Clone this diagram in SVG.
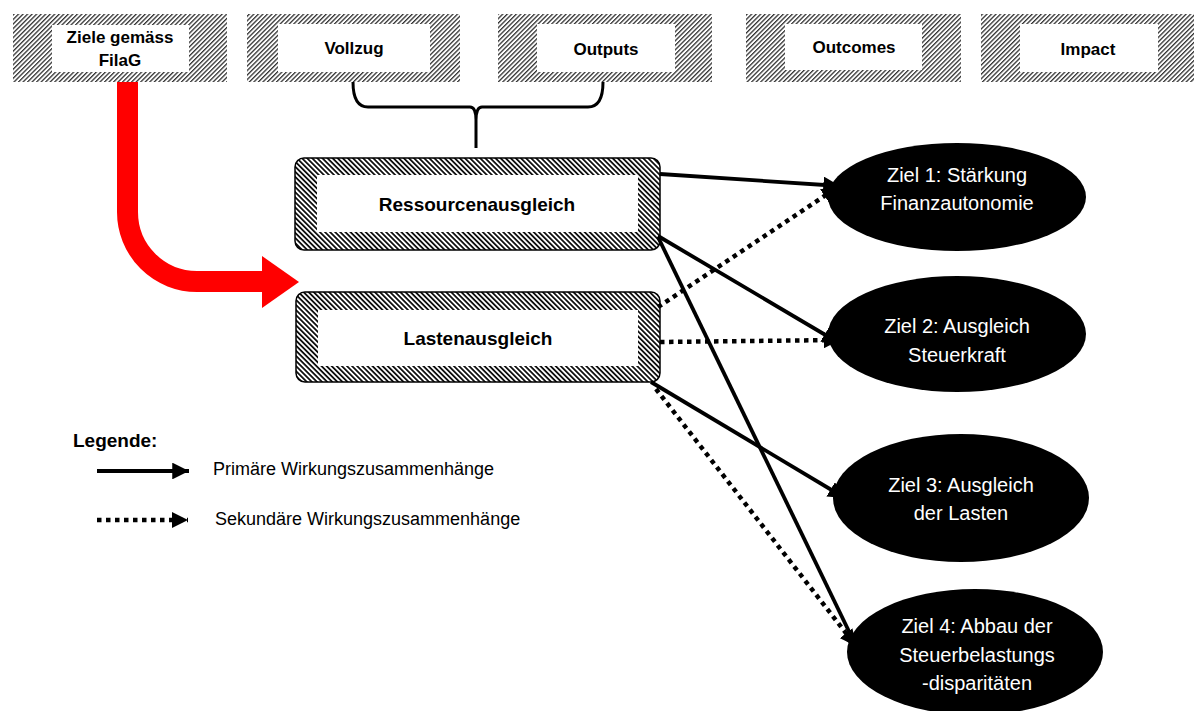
<svg xmlns="http://www.w3.org/2000/svg" width="1194" height="711" viewBox="0 0 1194 711">
<defs>
<pattern id="hatchTop" width="3.2" height="3.2" patternUnits="userSpaceOnUse" patternTransform="rotate(45)">
<rect width="3.2" height="3.2" fill="#fff"/><rect width="1.3" height="3.2" fill="#333"/>
</pattern>
<pattern id="hatchNode" width="3.6" height="3.6" patternUnits="userSpaceOnUse" patternTransform="rotate(-45)">
<rect width="3.6" height="3.6" fill="#fff"/><rect width="1.8" height="3.6" fill="#111"/>
</pattern>
<marker id="ah" viewBox="0 0 10 10" refX="10" refY="5" markerWidth="4.4" markerHeight="4.4" markerUnits="strokeWidth" orient="auto">
<path d="M0,0 L10,5 L0,10 Z" fill="#000"/>
</marker>
<marker id="ahd" viewBox="0 0 10 10" refX="10" refY="5" markerWidth="3.6" markerHeight="3.6" markerUnits="strokeWidth" orient="auto">
<path d="M0,0 L10,5 L0,10 Z" fill="#000"/>
</marker>
</defs>
<style>
.top{fill:url(#hatchTop)}
.in{fill:#fff}
.tl{font-family:"Liberation Sans",Arial,sans-serif;font-weight:bold;font-size:17px;fill:#000;text-anchor:middle}
.nb{fill:url(#hatchNode);stroke:#000;stroke-width:1.5}
.nl{font-family:"Liberation Sans",Arial,sans-serif;font-weight:bold;font-size:19px;fill:#000;text-anchor:middle}
.el{fill:#000}
.et{font-family:"Liberation Sans",Arial,sans-serif;font-size:20px;fill:#fff;text-anchor:middle}
.solid{stroke:#000;stroke-width:3.8;fill:none;marker-end:url(#ah)}
.dot{stroke:#000;stroke-width:4.5;fill:none;stroke-dasharray:4.5 4.5;marker-end:url(#ahd)}
.lg{font-family:"Liberation Sans",Arial,sans-serif;font-size:18px;fill:#000}
</style>
<rect width="1194" height="711" fill="#fff"/>

<g id="top-ziele">
<rect class="top" x="13" y="14" width="214" height="68"/>
<rect class="in" x="52" y="25" width="137" height="47"/>
<text class="tl" x="120" y="43">Ziele gemäss</text>
<text class="tl" x="120" y="66">FilaG</text>
</g>
<g id="top-vollzug">
<rect class="top" x="247" y="14" width="213" height="68"/>
<rect class="in" x="278" y="24" width="152" height="48"/>
<text class="tl" x="354" y="54">Vollzug</text>
</g>
<g id="top-outputs">
<rect class="top" x="498" y="14" width="214" height="68"/>
<rect class="in" x="537" y="24" width="138" height="48"/>
<text class="tl" x="606" y="55">Outputs</text>
</g>
<g id="top-outcomes">
<rect class="top" x="746" y="14" width="215" height="68"/>
<rect class="in" x="785" y="24" width="137" height="46"/>
<text class="tl" x="854" y="53">Outcomes</text>
</g>
<g id="top-impact">
<rect class="top" x="981" y="14" width="213" height="68"/>
<rect class="in" x="1020" y="24" width="138" height="48"/>
<text class="tl" x="1088" y="55">Impact</text>
</g>

<g id="brace">
<path d="M353,82 Q353,107 368,107 H470 Q476,107 476,120 V148 M476,120 Q476,107 482,107 H588 Q603,107 603,82" fill="none" stroke="#000" stroke-width="3"/>
</g>

<g id="red-arrow">
<path d="M127.5,82 V212 A69.5,69.5 0 0 0 197,281.5 H264" fill="none" stroke="#ff0000" stroke-width="21"/>
<polygon points="262,256 299,282 262,308" fill="#ff0000"/>
</g>

<g id="node-ressourcen">
<rect class="nb" x="295" y="158" width="365" height="92" rx="9"/>
<rect class="in" x="317" y="175" width="321" height="57"/>
<text class="nl" x="477" y="211">Ressourcenausgleich</text>
</g>
<g id="node-lasten">
<rect class="nb" x="296" y="292" width="364" height="90" rx="9"/>
<rect class="in" x="318" y="310" width="320" height="56"/>
<text class="nl" x="478" y="345">Lastenausgleich</text>
</g>

<g id="ziel1">
<ellipse class="el" cx="957" cy="197" rx="129" ry="54"/>
<text class="et" x="957" y="182">Ziel 1: Stärkung</text>
<text class="et" x="957" y="210">Finanzautonomie</text>
</g>
<g id="ziel2">
<ellipse class="el" cx="957" cy="334" rx="129" ry="58"/>
<text class="et" x="957" y="333">Ziel 2: Ausgleich</text>
<text class="et" x="957" y="362">Steuerkraft</text>
</g>
<g id="ziel3">
<ellipse class="el" cx="961" cy="498" rx="128" ry="64"/>
<text class="et" x="961" y="492">Ziel 3: Ausgleich</text>
<text class="et" x="961" y="520">der Lasten</text>
</g>
<g id="ziel4">
<ellipse class="el" cx="975" cy="652" rx="128" ry="63"/>
<text class="et" x="977" y="633">Ziel 4: Abbau der</text>
<text class="et" x="977" y="662">Steuerbelastungs</text>
<text class="et" x="977" y="690">-disparitäten</text>
</g>

<g id="connectors">
<line class="solid" x1="660" y1="174" x2="840" y2="186"/>
<line class="dot" x1="658" y1="307" x2="838" y2="187"/>
<line class="solid" x1="658" y1="236" x2="839" y2="343"/>
<line class="dot" x1="660" y1="342" x2="840" y2="340"/>
<line class="solid" x1="658" y1="237" x2="858" y2="650"/>
<line class="solid" x1="651" y1="382" x2="845" y2="498"/>
<line class="dot" x1="656" y1="389" x2="856" y2="646"/>
</g>

<g id="legend">
<text x="73" y="447" font-family="Liberation Sans, Arial, sans-serif" font-weight="bold" font-size="19">Legende:</text>
<line class="solid" x1="97" y1="471" x2="189" y2="471"/>
<text class="lg" x="213" y="475">Primäre Wirkungszusammenhänge</text>
<line class="dot" x1="97" y1="520" x2="188" y2="520"/>
<text class="lg" x="215" y="525">Sekundäre Wirkungszusammenhänge</text>
</g>
</svg>
